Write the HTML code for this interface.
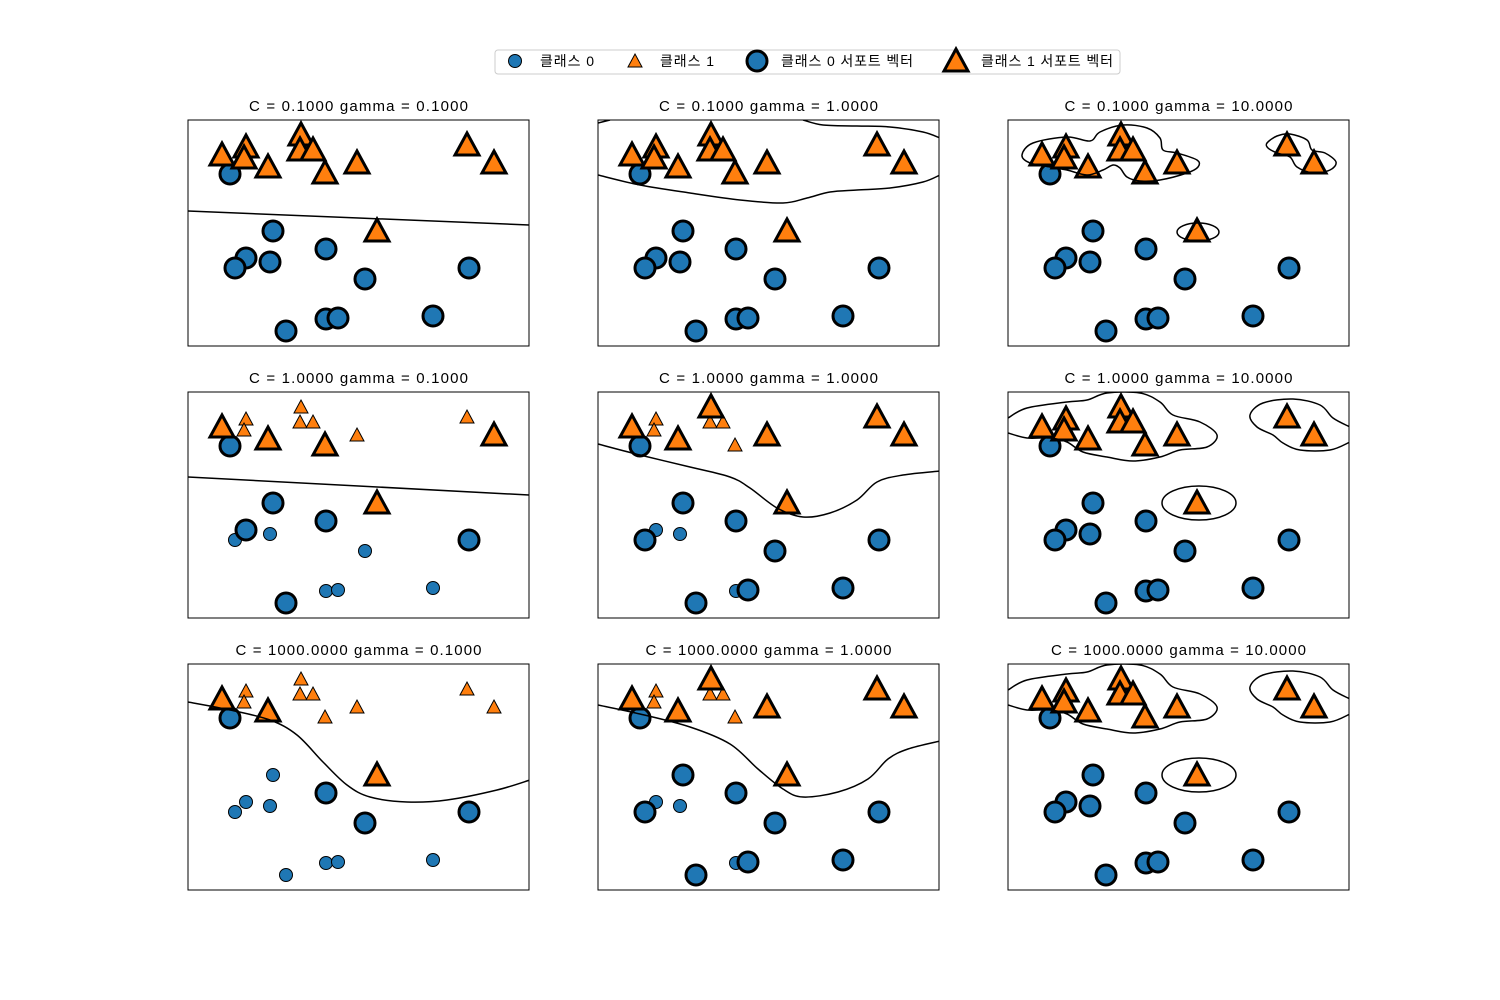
<!DOCTYPE html>
<html><head><meta charset="utf-8"><style>
body{margin:0;background:#fff;}
svg{display:block;}
text{font-family:"Liberation Sans","Noto Sans CJK KR",sans-serif;}
</style></head><body>
<svg id="s" width="1500" height="1000" xmlns="http://www.w3.org/2000/svg">
<rect x="495" y="50" width="625" height="24" rx="3" fill="#fff" stroke="#ccc"/>
<circle cx="515" cy="61" r="6.5" fill="#1f77b4" stroke="#000" stroke-width="1"/>
<text x="540" y="66" font-size="14" textLength="54" lengthAdjust="spacing">클래스 0</text>
<polygon points="635,54 642,67 628,67" fill="#ff7f0e" stroke="#000" stroke-width="1"/>
<text x="660" y="66" font-size="14" textLength="54" lengthAdjust="spacing">클래스 1</text>
<circle cx="757" cy="61" r="10" fill="#1f77b4" stroke="#000" stroke-width="3"/>
<text x="781" y="66" font-size="14" textLength="132" lengthAdjust="spacing">클래스 0 서포트 벡터</text>
<polygon points="956,49 968,71 944,71" fill="#ff7f0e" stroke="#000" stroke-width="3" stroke-linejoin="miter"/>
<text x="981" y="66" font-size="14" textLength="132" lengthAdjust="spacing">클래스 1 서포트 벡터</text>
</svg>
<script>
const NS="http://www.w3.org/2000/svg",S=document.getElementById('s');
function el(t,a){const e=document.createElementNS(NS,t);for(const k in a)e.setAttribute(k,a[k]);S.appendChild(e);return e;}
const C=[[42,54],[85,111],[58,138],[47,148],[82,142],[138,129],[177,159],[281,148],[98,211],[138,199],[150,198],[245,196]];
const T=[[34,35],[58,27],[56,38],[113,15],[112,30],[125,30],[80,47],[137,53],[169,43],[279,25],[306,43],[189,111]];
function sm(p,closed){let n=p.length,d="M"+p[0][0]+","+p[0][1];
 const g=i=>closed?p[(i+n)%n]:p[Math.max(0,Math.min(n-1,i))];
 const m=closed?n:n-1;
 for(let i=0;i<m;i++){const p0=g(i-1),p1=g(i),p2=g(i+1),p3=g(i+2);
  d+=` C${p1[0]+(p2[0]-p0[0])/6},${p1[1]+(p2[1]-p0[1])/6} ${p2[0]-(p3[0]-p1[0])/6},${p2[1]-(p3[1]-p1[1])/6} ${p2[0]},${p2[1]}`;}
 return d+(closed?"Z":"");}
const b1=[[14,35],[25,23],[59,17],[82,21],[92,12],[115,5],[139,8],[152,18],[155,30],[169,33],[189,40],[190,47],[179,53],[152,60],[132,61],[119,57],[112,48],[105,45],[95,50],[79,55],[59,50],[42,47],[22,43]];
const b2=[[259,23],[269,16],[282,14],[299,20],[304,30],[317,33],[328,42],[322,50],[305,53],[289,47],[282,37],[269,33],[260,28]];
const c1=[[0,26],[19,16],[59,10],[79,8],[99,1],[132,1],[152,10],[165,23],[192,30],[209,43],[199,55],[172,58],[152,65],[125,69],[99,65],[75,60],[59,50],[42,46],[19,46],[0,41]];
const c2=[[342,35],[325,26],[312,13],[285,7],[255,11],[242,23],[249,35],[265,43],[275,51],[292,58],[322,58],[342,50]];
const L2=[[0,52],[42,63],[92,75],[132,85],[152,96],[179,116],[205,125],[232,121],[259,108],[279,90],[305,83],[342,79]];
const panels=[
 {t:"C = 0.1000 gamma = 0.1000",w:219,paths:[sm([[0,91],[341,105]])]},
 {t:"C = 0.1000 gamma = 1.0000",w:219,paths:[sm([[0,55],[42,65],[92,73],[142,80],[185,83],[209,78],[232,72],[259,70],[292,68],[325,62],[342,55]]),sm([[0,3],[12,0]]),sm([[205,0],[225,5],[259,6],[292,7],[325,12],[342,18]])]},
 {t:"C = 0.1000 gamma = 10.0000",w:228,paths:[sm(b1,1),sm(b2,1)],ell:[190,112,21,9]},
 {t:"C = 1.0000 gamma = 0.1000",w:219,paths:[sm([[0,85],[341,103]])],sT:[1,2,3,4,5,8,9],sC:[3,4,6,9,10,11]},
 {t:"C = 1.0000 gamma = 1.0000",w:219,paths:[sm(L2)],sT:[1,2,4,5,7],sC:[2,4,9]},
 {t:"C = 1.0000 gamma = 10.0000",w:228,paths:[sm(c1),sm(c2)],ell:[191,111,37,17]},
 {t:"C = 1000.0000 gamma = 0.1000",w:246,paths:[sm([[0,38],[42,46],[82,56],[109,71],[135,98],[159,121],[182,133],[219,138],[259,136],[309,126],[342,116]])],lT:[0,6,11],lC:[0,5,6,7]},
 {t:"C = 1000.0000 gamma = 1.0000",w:246,paths:[sm([[0,41],[42,50],[92,63],[132,80],[160,105],[185,125],[205,133],[240,128],[270,115],[290,95],[310,85],[342,77]])],sT:[1,2,4,5,7],sC:[2,4,9]},
 {t:"C = 1000.0000 gamma = 10.0000",w:255,paths:[sm(c1),sm(c2)],ell:[191,111,37,17]},
];
const X=[188,598,1008],Y=[120,392,664];
panels.forEach((p,i)=>{const ox=X[i%3],oy=Y[Math.floor(i/3)];
 el('text',{x:ox+170.5-p.w/2,y:oy-9,'font-size':15,textLength:p.w,lengthAdjust:'spacing'}).textContent=p.t;
 const cp=el('clipPath',{id:'c'+i});const r=document.createElementNS(NS,'rect');r.setAttribute('x',ox);r.setAttribute('y',oy);r.setAttribute('width',341);r.setAttribute('height',226);cp.appendChild(r);
 const g=el('g',{transform:`translate(${ox},${oy})`});
 const add=(t,a)=>{const e=document.createElementNS(NS,t);for(const k in a)e.setAttribute(k,a[k]);g.appendChild(e);};
 const big=(arr,lst,sml)=>arr.map((_,k)=>lst?lst.includes(k):(sml?!sml.includes(k):true));
 const bc=big(C,p.lC,p.sC),bt=big(T,p.lT,p.sT);
 C.forEach((c,k)=>{if(!bc[k])add('circle',{cx:c[0],cy:c[1],r:6.5,fill:'#1f77b4',stroke:'#000','stroke-width':1});});
 T.forEach((c,k)=>{if(!bt[k])add('polygon',{points:`${c[0]},${c[1]-7} ${c[0]+7},${c[1]+6} ${c[0]-7},${c[1]+6}`,fill:'#ff7f0e',stroke:'#000','stroke-width':1});});
 C.forEach((c,k)=>{if(bc[k])add('circle',{cx:c[0],cy:c[1],r:10,fill:'#1f77b4',stroke:'#000','stroke-width':3});});
 T.forEach((c,k)=>{if(bt[k])add('polygon',{points:`${c[0]},${c[1]-12} ${c[0]+12},${c[1]+10} ${c[0]-12},${c[1]+10}`,fill:'#ff7f0e',stroke:'#000','stroke-width':3});});
 const cl=el('g',{'clip-path':`url(#c${i})`});
 const g2=document.createElementNS(NS,'g');g2.setAttribute('transform',`translate(${ox},${oy})`);cl.appendChild(g2);
 p.paths.forEach(d=>{const e=document.createElementNS(NS,'path');e.setAttribute('d',d);e.setAttribute('fill','none');e.setAttribute('stroke','#000');e.setAttribute('stroke-width',1.5);g2.appendChild(e);});
 if(p.ell){const e=document.createElementNS(NS,'ellipse');const [a,b,c,d]=p.ell;e.setAttribute('cx',a);e.setAttribute('cy',b);e.setAttribute('rx',c);e.setAttribute('ry',d);e.setAttribute('fill','none');e.setAttribute('stroke','#000');e.setAttribute('stroke-width',1.5);g2.appendChild(e);}
 el('rect',{x:ox,y:oy,width:341,height:226,fill:'none',stroke:'#000','stroke-width':1});
});
</script>
</body></html>
